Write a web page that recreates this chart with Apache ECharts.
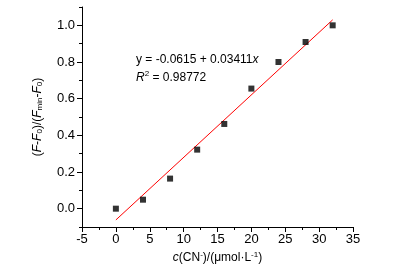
<!DOCTYPE html>
<html><head><meta charset="utf-8">
<script src="https://cdn.jsdelivr.net/npm/echarts@6/dist/echarts.min.js"></script>
<style>html,body{margin:0;padding:0;background:#fff;}#c{width:418px;height:278px;}</style>
</head><body><div id="c"></div>
<script>
const concentrations = [0, 4, 8, 12, 16, 20, 24, 28, 32];
const responses = [0.0, 0.049, 0.164, 0.322, 0.462, 0.655, 0.800, 0.909, 1.0];
const fitIntercept = -0.0615;
const fitSlope = 0.03411;
const fitRange = [0, 32];
const yMajorTicks = [0.0, 0.2, 0.4, 0.6, 0.8, 1.0];
const equationText = 'y = -0.0615 + 0.03411';
const r2Text = ' = 0.98772';

const FONT = 'Liberation Sans, Arial, sans-serif';
const chart = echarts.init(document.getElementById('c'));
const pts = concentrations.map((x, i) => [x, responses[i]]);
const fit = fitRange.map(x => [x, fitIntercept + fitSlope * x]);

chart.setOption({
  animation: false,
  backgroundColor: '#fff',
  grid: {left: 82, top: 7, right: 65, bottom: 51, containLabel: false},
  xAxis: {
    type: 'value', min: -5, max: 35, interval: 5,
    axisLine: {show: true, onZero: false, lineStyle: {color: '#000', width: 1}},
    axisTick: {show: true, length: 5, lineStyle: {color: '#000'}},
    minorTick: {show: true, splitNumber: 2, length: 3, lineStyle: {color: '#000'}},
    splitLine: {show: false},
    axisLabel: {color: '#000', fontSize: 13, fontFamily: FONT, margin: 6},
    name: '{i|c}(CN{sup|-})/(μmol·L{sup|-1})',
    nameLocation: 'middle', nameGap: 19,
    nameTextStyle: {
      color: '#000', fontSize: 12, fontFamily: FONT,
      rich: {
        i: {fontStyle: 'italic', fontSize: 12, fontFamily: FONT, color: '#000'},
        sup: {fontSize: 8, fontFamily: FONT, color: '#000', verticalAlign: 'bottom', padding: [0, 0, 6, 0]}
      }
    }
  },
  yAxis: [{
    type: 'value', min: -0.1, max: 1.1,
    axisLine: {show: true, onZero: false, lineStyle: {color: '#000', width: 1}},
    axisTick: {show: true, length: 5, customValues: yMajorTicks, lineStyle: {color: '#000'}},
    splitLine: {show: false},
    axisLabel: {color: '#000', fontSize: 13, fontFamily: FONT, margin: 7, customValues: yMajorTicks,
      formatter: v => v.toFixed(1)},
    name: '({i|F}-{i|F}{sub|0})/({i|F}{sub|min}-{i|F}{sub|0})',
    nameLocation: 'middle', nameGap: 38, nameRotate: 90,
    nameTextStyle: {
      color: '#000', fontSize: 12, fontFamily: FONT,
      rich: {
        i: {fontStyle: 'italic', fontSize: 12, fontFamily: FONT, color: '#000'},
        sub: {fontSize: 8, fontFamily: FONT, color: '#000', verticalAlign: 'bottom', lineHeight: 8}
      }
    }
  }, {
    type: 'value', min: -0.1, max: 1.1, interval: 0.1, position: 'left', offset: 0,
    axisLine: {show: false, onZero: false},
    axisTick: {show: true, length: 3, lineStyle: {color: '#000'}},
    axisLabel: {show: false},
    splitLine: {show: false}
  }],
  graphic: [{
    type: 'text', left: 136, top: 54,
    style: {
      text: equationText + '{i|x}',
      font: '12px ' + FONT, fill: '#000',
      rich: {i: {fontStyle: 'italic', fontSize: 12, fontFamily: FONT, fill: '#000'}}
    }
  }, {
    type: 'text', left: 136, top: 70,
    style: {
      text: '{i|R}{sup|2}' + r2Text,
      font: '12px ' + FONT, fill: '#000', lineHeight: 15,
      rich: {
        i: {fontStyle: 'italic', fontSize: 12, fontFamily: FONT, fill: '#000', lineHeight: 15},
        sup: {fontSize: 8, fontFamily: FONT, fill: '#000', verticalAlign: 'top', lineHeight: 8}
      }
    }
  }],
  series: [{
    type: 'line', data: fit, showSymbol: false, symbol: 'none',
    lineStyle: {color: '#ff0000', width: 1}, z: 2
  }, {
    type: 'scatter', data: pts, symbol: 'rect', symbolSize: 6,
    itemStyle: {color: '#000'}, z: 3
  }]
});
</script></body></html>
